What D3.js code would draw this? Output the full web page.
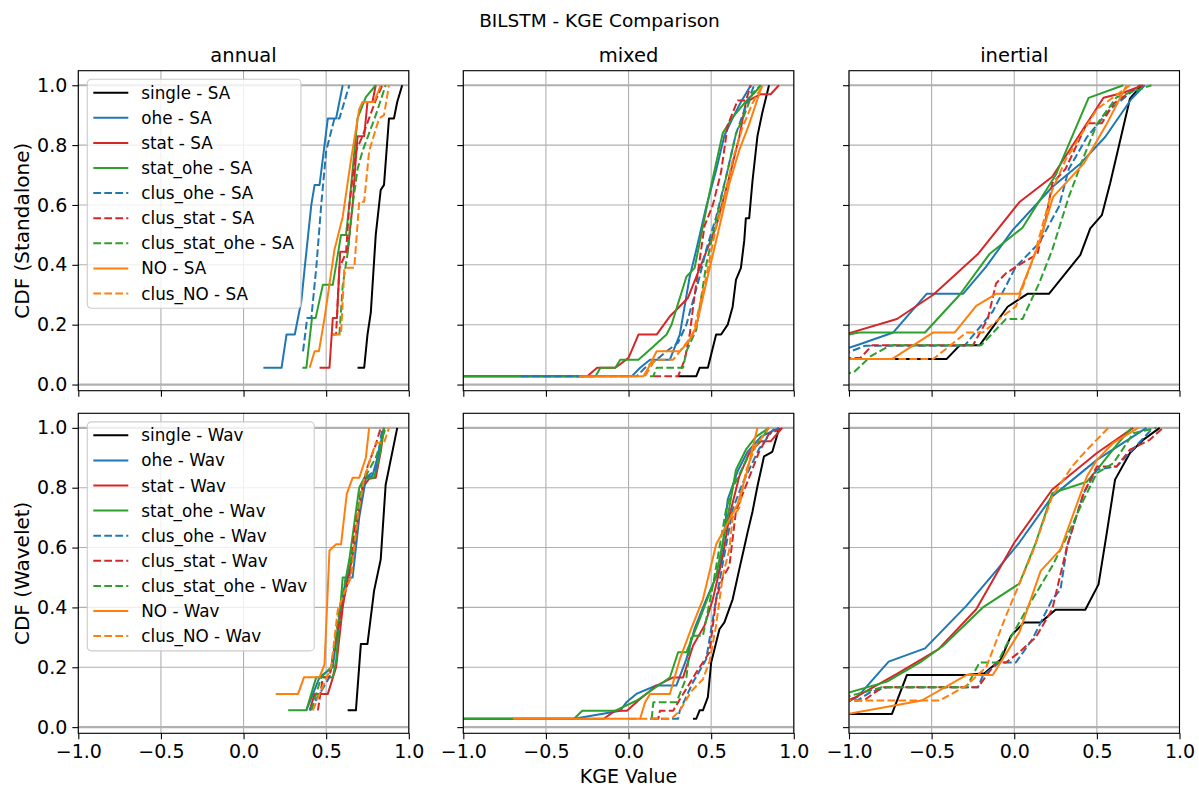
<!DOCTYPE html>
<html>
<head>
<meta charset="utf-8">
<script src="https://cdn.jsdelivr.net/npm/d3@7"></script>
<style>
  body { margin: 0; background: #fff; }
  text { font-family: "DejaVu Sans", sans-serif; fill: #000; }
</style>
</head>
<body>
<div id="chart-area"></div>
<script>
// series order, names and styles
const seriesNames = ["single", "ohe", "stat", "stat_ohe", "clus_ohe", "clus_stat", "clus_stat_ohe", "NO", "clus_NO"];
const seriesColors = ["#000000", "#1f77b4", "#d62728", "#2ca02c", "#1f77b4", "#d62728", "#2ca02c", "#ff7f0e", "#ff7f0e"];
const seriesDashed = [false, false, false, false, true, true, true, false, true];

const columnTitles = ["annual", "mixed", "inertial"];
const rowSuffixes = ["SA", "Wav"];
const rowLabels = ["CDF (Standalone)", "CDF (Wavelet)"];
const xTicks = [-1, -0.5, 0, 0.5, 1];
const yTicks = [0, 0.2, 0.4, 0.6, 0.8, 1.0];

// [KGE value, CDF] points, one array per series (same order as seriesNames)
const annualSA = [
  [[0.69,0.056],[0.73,0.056],[0.75,0.167],[0.77,0.24],[0.80,0.5],[0.83,0.65],[0.85,0.667],[0.88,0.889],[0.91,0.889],[0.93,0.944],[0.96,1.0]],
  [[0.12,0.056],[0.23,0.056],[0.26,0.167],[0.31,0.167],[0.35,0.28],[0.37,0.39],[0.41,0.6],[0.43,0.667],[0.46,0.667],[0.51,0.889],[0.56,0.889],[0.60,1.0]],
  [[0.46,0.056],[0.52,0.056],[0.54,0.222],[0.565,0.222],[0.585,0.444],[0.63,0.444],[0.66,0.6],[0.675,0.72],[0.69,0.83],[0.73,0.83],[0.75,0.944],[0.78,0.944],[0.80,1.0]],
  [[0.356,0.056],[0.38,0.056],[0.414,0.222],[0.436,0.222],[0.48,0.333],[0.54,0.333],[0.59,0.5],[0.62,0.5],[0.64,0.6],[0.69,0.89],[0.74,0.96],[0.80,1.0]],
  [[0.36,0.111],[0.385,0.222],[0.41,0.222],[0.44,0.39],[0.47,0.6],[0.50,0.78],[0.55,0.889],[0.58,0.889],[0.64,1.0]],
  [[0.53,0.167],[0.56,0.167],[0.58,0.39],[0.62,0.44],[0.64,0.6],[0.68,0.78],[0.72,0.83],[0.76,0.89],[0.80,0.95],[0.84,1.0]],
  [[0.58,0.167],[0.60,0.33],[0.63,0.44],[0.66,0.6],[0.69,0.72],[0.72,0.78],[0.76,0.84],[0.80,0.9],[0.86,1.0]],
  [[0.40,0.056],[0.43,0.111],[0.456,0.111],[0.49,0.222],[0.55,0.45],[0.60,0.56],[0.65,0.75],[0.70,0.92],[0.72,0.944],[0.79,0.944],[0.83,1.0]],
  [[0.54,0.167],[0.59,0.167],[0.61,0.39],[0.67,0.39],[0.70,0.611],[0.73,0.611],[0.76,0.78],[0.82,0.889],[0.85,0.9],[0.88,1.0]]
];

const mixedSA = [
  [[0.30,0.028],[0.41,0.028],[0.43,0.056],[0.48,0.056],[0.53,0.167],[0.56,0.167],[0.60,0.2],[0.63,0.26],[0.65,0.35],[0.68,0.39],[0.70,0.48],[0.71,0.556],[0.73,0.556],[0.75,0.68],[0.78,0.83],[0.81,0.91],[0.85,1.0]],
  [[-1.5,0.028],[0.02,0.028],[0.07,0.056],[0.13,0.083],[0.25,0.083],[0.31,0.167],[0.37,0.36],[0.41,0.45],[0.47,0.594],[0.53,0.716],[0.58,0.832],[0.63,0.89],[0.68,0.944],[0.74,1.0]],
  [[-1.5,0.028],[-0.25,0.028],[-0.19,0.056],[-0.08,0.056],[0.0,0.089],[0.06,0.167],[0.17,0.167],[0.25,0.228],[0.29,0.25],[0.36,0.29],[0.45,0.416],[0.53,0.527],[0.61,0.694],[0.67,0.827],[0.71,0.944],[0.80,0.97],[0.86,0.97],[0.91,1.0]],
  [[-1.5,0.028],[-0.2,0.028],[-0.17,0.056],[-0.08,0.056],[-0.05,0.083],[0.06,0.083],[0.13,0.117],[0.23,0.167],[0.26,0.2],[0.35,0.36],[0.40,0.39],[0.49,0.64],[0.57,0.84],[0.63,0.893],[0.71,0.946],[0.76,0.973],[0.80,1.0]],
  [[-0.65,0.028],[0.05,0.028],[0.10,0.056],[0.17,0.083],[0.23,0.111],[0.30,0.14],[0.35,0.2],[0.43,0.36],[0.47,0.45],[0.53,0.56],[0.59,0.694],[0.65,0.838],[0.71,0.93],[0.76,1.0]],
  [[0.15,0.028],[0.30,0.028],[0.32,0.056],[0.34,0.083],[0.37,0.167],[0.40,0.3],[0.46,0.53],[0.51,0.6],[0.56,0.71],[0.60,0.866],[0.66,0.949],[0.71,0.949],[0.74,1.0]],
  [[0.13,0.028],[0.15,0.028],[0.17,0.056],[0.33,0.056],[0.35,0.111],[0.41,0.183],[0.47,0.4],[0.53,0.55],[0.60,0.716],[0.65,0.838],[0.70,0.9],[0.75,0.973],[0.80,1.0]],
  [[-0.3,0.028],[0.09,0.028],[0.12,0.056],[0.17,0.111],[0.31,0.111],[0.36,0.14],[0.41,0.194],[0.47,0.34],[0.55,0.527],[0.61,0.672],[0.67,0.783],[0.73,0.87],[0.79,0.97],[0.81,1.0]],
  [[0.10,0.028],[0.13,0.056],[0.16,0.083],[0.27,0.083],[0.31,0.111],[0.39,0.167],[0.47,0.36],[0.53,0.527],[0.57,0.6],[0.63,0.75],[0.69,0.86],[0.75,0.94],[0.81,1.0]]
];

const inertialSA = [
  [[-1.1,0.085],[-0.41,0.085],[-0.33,0.131],[-0.21,0.131],[-0.04,0.26],[0.08,0.303],[0.21,0.303],[0.40,0.433],[0.46,0.522],[0.53,0.566],[0.58,0.672],[0.70,0.955],[0.77,1.0]],
  [[-1.1,0.105],[-0.944,0.133],[-0.732,0.174],[-0.53,0.303],[-0.31,0.303],[-0.17,0.394],[-0.01,0.516],[0.23,0.66],[0.40,0.738],[0.55,0.827],[0.71,0.955],[0.79,1.0]],
  [[-1.1,0.155],[-0.71,0.219],[-0.49,0.30],[-0.22,0.436],[0.03,0.609],[0.23,0.694],[0.54,0.958],[0.66,0.975],[0.78,1.0]],
  [[-1.1,0.155],[-0.94,0.174],[-0.54,0.174],[-0.33,0.30],[-0.15,0.436],[0.05,0.524],[0.25,0.699],[0.45,0.958],[0.66,1.0]],
  [[-1.1,0.087],[-0.9,0.13],[-0.3,0.13],[-0.13,0.244],[0.01,0.394],[0.15,0.472],[0.27,0.594],[0.33,0.72],[0.44,0.827],[0.58,0.92],[0.76,1.0]],
  [[-1.1,0.089],[-0.93,0.089],[-0.86,0.131],[-0.25,0.131],[-0.16,0.22],[-0.11,0.338],[-0.05,0.372],[0.03,0.4],[0.14,0.436],[0.19,0.55],[0.23,0.672],[0.31,0.72],[0.44,0.873],[0.53,0.873],[0.60,0.938],[0.76,1.0]],
  [[-1.1,0.03],[-0.97,0.041],[-0.87,0.094],[-0.75,0.131],[-0.2,0.131],[-0.05,0.219],[0.05,0.219],[0.15,0.338],[0.23,0.45],[0.33,0.627],[0.42,0.76],[0.50,0.87],[0.62,0.96],[0.83,1.0]],
  [[-1.1,0.085],[-0.74,0.085],[-0.49,0.174],[-0.36,0.174],[-0.23,0.263],[-0.11,0.303],[0.03,0.303],[0.15,0.472],[0.235,0.627],[0.42,0.738],[0.56,0.871],[0.68,1.0]],
  [[-1.1,0.085],[-0.49,0.085],[-0.29,0.174],[-0.19,0.174],[-0.09,0.22],[0.01,0.261],[0.12,0.43],[0.23,0.65],[0.31,0.75],[0.50,0.92],[0.60,0.96],[0.70,1.0]]
];

const annualWav = [
  [[0.63,0.056],[0.68,0.056],[0.71,0.278],[0.75,0.278],[0.79,0.456],[0.83,0.56],[0.86,0.81],[0.93,1.0]],
  [[0.38,0.056],[0.42,0.111],[0.46,0.167],[0.54,0.2],[0.57,0.33],[0.62,0.5],[0.66,0.5],[0.70,0.7],[0.74,0.83],[0.78,0.84],[0.81,0.9],[0.85,1.0]],
  [[0.40,0.056],[0.43,0.111],[0.51,0.111],[0.56,0.2],[0.60,0.4],[0.63,0.5],[0.67,0.6],[0.72,0.8],[0.76,0.83],[0.80,0.833],[0.83,0.92],[0.85,1.0]],
  [[0.27,0.056],[0.38,0.056],[0.44,0.167],[0.54,0.167],[0.56,0.22],[0.60,0.5],[0.62,0.5],[0.64,0.56],[0.70,0.8],[0.73,0.833],[0.79,0.833],[0.82,0.9],[0.85,1.0]],
  [[0.40,0.056],[0.46,0.111],[0.52,0.167],[0.58,0.35],[0.62,0.5],[0.66,0.56],[0.70,0.72],[0.74,0.833],[0.80,0.86],[0.84,1.0]],
  [[0.45,0.056],[0.48,0.167],[0.52,0.167],[0.57,0.33],[0.61,0.44],[0.64,0.5],[0.67,0.65],[0.71,0.78],[0.75,0.87],[0.80,0.944],[0.83,1.0]],
  [[0.41,0.056],[0.47,0.167],[0.53,0.2],[0.58,0.39],[0.62,0.5],[0.67,0.6],[0.71,0.8],[0.75,0.85],[0.80,0.9],[0.86,1.0]],
  [[0.195,0.111],[0.33,0.111],[0.366,0.167],[0.46,0.167],[0.49,0.21],[0.52,0.59],[0.56,0.611],[0.59,0.611],[0.625,0.78],[0.66,0.833],[0.70,0.833],[0.74,0.9],[0.76,1.0]],
  [[0.42,0.056],[0.46,0.111],[0.53,0.2],[0.57,0.39],[0.61,0.45],[0.65,0.5],[0.69,0.7],[0.73,0.833],[0.80,0.95],[0.85,0.95],[0.88,1.0]]
];

const mixedWav = [
  [[0.39,0.028],[0.41,0.028],[0.43,0.056],[0.45,0.056],[0.48,0.1],[0.50,0.216],[0.55,0.327],[0.58,0.35],[0.63,0.427],[0.67,0.527],[0.70,0.6],[0.72,0.65],[0.75,0.72],[0.78,0.805],[0.82,0.905],[0.87,0.92],[0.90,0.977],[0.91,1.0]],
  [[-1.5,0.028],[-0.33,0.028],[-0.05,0.055],[-0.013,0.083],[0.047,0.111],[0.168,0.139],[0.289,0.139],[0.35,0.227],[0.40,0.33],[0.47,0.427],[0.55,0.527],[0.58,0.65],[0.60,0.76],[0.66,0.855],[0.72,0.92],[0.80,0.97],[0.91,1.0]],
  [[-1.5,0.028],[-0.15,0.028],[-0.08,0.055],[-0.01,0.055],[0.07,0.094],[0.17,0.139],[0.27,0.166],[0.33,0.166],[0.39,0.272],[0.46,0.34],[0.51,0.427],[0.57,0.57],[0.61,0.705],[0.67,0.838],[0.73,0.916],[0.80,0.955],[0.86,0.955],[0.93,1.0]],
  [[-1.5,0.028],[-0.33,0.028],[-0.28,0.055],[-0.08,0.055],[0.05,0.089],[0.25,0.166],[0.30,0.25],[0.35,0.25],[0.43,0.36],[0.53,0.505],[0.59,0.672],[0.65,0.86],[0.71,0.927],[0.77,0.97],[0.85,1.0]],
  [[0.13,0.028],[0.30,0.028],[0.31,0.055],[0.39,0.15],[0.47,0.227],[0.53,0.427],[0.59,0.605],[0.63,0.727],[0.69,0.815],[0.79,0.93],[0.87,0.99],[0.89,1.0]],
  [[0.15,0.028],[0.18,0.028],[0.19,0.055],[0.27,0.055],[0.30,0.083],[0.41,0.183],[0.49,0.25],[0.53,0.427],[0.57,0.5],[0.61,0.538],[0.65,0.722],[0.72,0.82],[0.79,0.92],[0.85,0.98],[0.94,1.0]],
  [[0.14,0.028],[0.15,0.083],[0.29,0.083],[0.35,0.166],[0.38,0.305],[0.45,0.305],[0.51,0.472],[0.59,0.727],[0.63,0.8],[0.72,0.9],[0.85,1.0]],
  [[-0.7,0.028],[0.07,0.028],[0.10,0.083],[0.13,0.111],[0.25,0.111],[0.31,0.227],[0.38,0.33],[0.45,0.427],[0.53,0.61],[0.59,0.672],[0.66,0.745],[0.72,0.86],[0.78,1.0]],
  [[0.0,0.028],[0.26,0.028],[0.31,0.055],[0.38,0.12],[0.45,0.16],[0.49,0.22],[0.53,0.34],[0.57,0.505],[0.61,0.594],[0.63,0.7],[0.67,0.733],[0.71,0.855],[0.77,0.94],[0.85,1.0]]
];

const inertialWav = [
  [[-1.1,0.044],[-0.74,0.044],[-0.65,0.174],[-0.29,0.174],[-0.18,0.18],[-0.08,0.227],[-0.02,0.305],[0.06,0.35],[0.16,0.35],[0.25,0.392],[0.43,0.392],[0.51,0.477],[0.56,0.649],[0.61,0.827],[0.70,0.916],[0.78,0.96],[0.88,1.0]],
  [[-1.1,0.06],[-0.95,0.1],[-0.76,0.219],[-0.54,0.263],[-0.29,0.405],[-0.11,0.522],[0.03,0.616],[0.23,0.771],[0.50,0.893],[0.80,1.0]],
  [[-1.1,0.07],[-0.96,0.1],[-0.71,0.178],[-0.46,0.26],[-0.23,0.394],[0.0,0.616],[0.23,0.794],[0.50,0.916],[0.72,1.0]],
  [[-1.1,0.1],[-0.77,0.152],[-0.57,0.216],[-0.43,0.272],[-0.19,0.4],[0.03,0.479],[0.13,0.616],[0.23,0.782],[0.44,0.82],[0.51,0.866],[0.62,0.943],[0.71,1.0]],
  [[-1.1,0.089],[-0.95,0.089],[-0.87,0.117],[-0.77,0.133],[-0.22,0.133],[-0.19,0.172],[-0.09,0.216],[0.01,0.216],[0.11,0.294],[0.23,0.427],[0.28,0.46],[0.32,0.605],[0.42,0.782],[0.50,0.86],[0.62,0.871],[0.84,1.0]],
  [[-1.1,0.089],[-0.91,0.089],[-0.80,0.133],[-0.22,0.133],[-0.11,0.216],[-0.05,0.216],[0.03,0.25],[0.13,0.3],[0.23,0.394],[0.32,0.605],[0.42,0.782],[0.50,0.871],[0.62,0.871],[0.70,0.927],[0.82,0.96],[0.90,1.0]],
  [[-1.1,0.089],[-0.8,0.133],[-0.29,0.133],[-0.21,0.216],[-0.1,0.216],[-0.05,0.272],[0.11,0.427],[0.23,0.538],[0.32,0.638],[0.42,0.76],[0.50,0.849],[0.60,0.882],[0.72,0.982],[0.86,1.0]],
  [[-1.1,0.035],[-0.56,0.089],[-0.29,0.174],[-0.13,0.174],[0.03,0.316],[0.16,0.522],[0.28,0.594],[0.44,0.838],[0.50,0.893],[0.60,0.95],[0.75,1.0]],
  [[-1.1,0.089],[-0.45,0.089],[-0.29,0.139],[-0.17,0.2],[-0.05,0.372],[0.11,0.583],[0.23,0.771],[0.35,0.871],[0.44,0.927],[0.57,1.0]]
];

const panelData = [[annualSA, mixedSA, inertialSA], [annualWav, mixedWav, inertialWav]];

// layout
const W = 1199, H = 787;
const colLeft = [78.3, 463.3, 849];
const rowTop = [70.7, 413.3];
const pw = 330.5, ph = 320;

const svg = d3.select("#chart-area")
  .append("svg")
  .attr("width", W)
  .attr("height", H);

const x = d3.scaleLinear().domain([-1, 1]).range([0, pw]);
const y = d3.scaleLinear().domain([-0.0206, 1.0486]).range([ph, 0]);

const line = d3.line()
  .x(d => x(d[0]))
  .y(d => y(d[1]));

const fmt = d3.format(".1f");

svg.append("text")
  .attr("x", W / 2)
  .attr("y", 27)
  .attr("text-anchor", "middle")
  .attr("font-size", "18.5px")
  .text("BILSTM - KGE Comparison");

rowTop.forEach((top, r) => {
  colLeft.forEach((left, c) => {
    const g = svg.append("g")
      .attr("transform", `translate(${left}, ${top})`);

    const clipId = `clip-${r}-${c}`;
    g.append("clipPath").attr("id", clipId)
      .append("rect").attr("width", pw).attr("height", ph);

    // grid
    g.append("g").selectAll("line")
      .data(xTicks)
      .join("line")
      .attr("x1", d => x(d)).attr("x2", d => x(d))
      .attr("y1", 0).attr("y2", ph)
      .attr("stroke", "#b0b0b0")
      .attr("stroke-width", 1.1);

    g.append("g").selectAll("line")
      .data(yTicks)
      .join("line")
      .attr("x1", 0).attr("x2", pw)
      .attr("y1", d => y(d)).attr("y2", d => y(d))
      .attr("stroke", "#b0b0b0")
      .attr("stroke-width", d => (d === 0 || d === 1) ? 2.2 : 1.1);

    // axes
    const xAxis = d3.axisBottom(x)
      .tickValues(xTicks)
      .tickSize(6)
      .tickPadding(5)
      .tickFormat(r === 1 ? fmt : "");
    const yAxis = d3.axisLeft(y)
      .tickValues(yTicks)
      .tickSize(6)
      .tickPadding(5)
      .tickFormat(c === 0 ? fmt : "");

    const xg = g.append("g").attr("transform", `translate(0, ${ph})`).call(xAxis);
    const yg = g.append("g").call(yAxis);
    [xg, yg].forEach(ax => {
      ax.select(".domain").remove();
      ax.selectAll("line").attr("stroke", "#000").attr("stroke-width", 1.1);
      ax.selectAll("text")
        .attr("font-size", "19px")
        .attr("font-family", "DejaVu Sans, sans-serif")
        .attr("fill", "#000");
    });

    // CDF lines
    const lines = g.append("g").attr("clip-path", `url(#${clipId})`);
    panelData[r][c].forEach((pts, i) => {
      lines.append("path")
        .datum(pts)
        .attr("d", line)
        .attr("fill", "none")
        .attr("stroke", seriesColors[i])
        .attr("stroke-width", 2)
        .attr("stroke-linejoin", "round")
        .attr("stroke-dasharray", seriesDashed[i] ? "7.7,3.3" : null);
    });

    // frame
    g.append("rect")
      .attr("width", pw)
      .attr("height", ph)
      .attr("fill", "none")
      .attr("stroke", "#000")
      .attr("stroke-width", 1.1);

    if (r === 0) {
      g.append("text")
        .attr("x", pw / 2)
        .attr("y", -9)
        .attr("text-anchor", "middle")
        .attr("font-size", "19.5px")
        .text(columnTitles[c]);
    }

    if (c === 0) {
      g.append("text")
        .attr("transform", `translate(${29 - left}, ${ph / 2}) rotate(-90)`)
        .attr("text-anchor", "middle")
        .attr("font-size", "20px")
        .text(rowLabels[r]);

      // legend
      const legend = g.append("g").attr("transform", "translate(9, 8.6)");
      const box = legend.append("rect")
        .attr("rx", 4)
        .attr("fill", "#fff")
        .attr("fill-opacity", 0.8)
        .attr("stroke", "#cccccc")
        .attr("stroke-width", 1.1);

      let maxW = 0;
      seriesNames.forEach((name, i) => {
        const cy = 13.4 + i * 25.1;
        legend.append("line")
          .attr("x1", 6).attr("x2", 41)
          .attr("y1", cy).attr("y2", cy)
          .attr("stroke", seriesColors[i])
          .attr("stroke-width", 2)
          .attr("stroke-dasharray", seriesDashed[i] ? "7.7,3.3" : null);
        const t = legend.append("text")
          .attr("x", 54)
          .attr("y", cy)
          .attr("dy", "0.36em")
          .attr("font-size", "16.8px")
          .text(`${name} - ${rowSuffixes[r]}`);
        maxW = Math.max(maxW, t.node().getComputedTextLength());
      });
      box.attr("width", 54 + maxW + 7).attr("height", 229);
    }
  });
});

svg.append("text")
  .attr("x", colLeft[1] + pw / 2)
  .attr("y", 783)
  .attr("text-anchor", "middle")
  .attr("font-size", "19px")
  .text("KGE Value");
</script>
</body>
</html>
